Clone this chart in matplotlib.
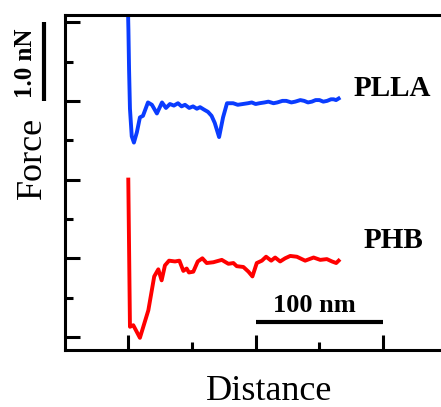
import numpy as np
import matplotlib.pyplot as plt

plt.rcParams['font.family'] = ['Liberation Serif', 'DejaVu Serif']

# force curves: distance (nm), force (nN, offset stacked)
plla_x = [0, 0.4, 0.9, 1.6, 3.0, 4.7, 7.0, 9.4, 11.8, 15.7, 18.8, 22.7, 26.7,
          29.8, 32.9, 36.0, 39.2, 42.0, 44.7, 48.0, 51.0, 54.0, 56.5, 59.5,
          62.7, 65.5, 68.0, 71.4, 74.5, 77.6, 82.4, 86, 90, 94, 97, 100, 103,
          107, 110, 114, 117, 121, 124, 128, 131, 135, 138, 141, 144, 147,
          150, 153, 156, 159, 161, 163, 165]
plla_y = [4.2, 3.9, 3.4, 2.9, 2.55, 2.47, 2.6, 2.79, 2.81, 2.98, 2.95, 2.84,
          2.98, 2.91, 2.96, 2.94, 2.97, 2.93, 2.95, 2.91, 2.93, 2.90, 2.92,
          2.89, 2.86, 2.81, 2.72, 2.54, 2.79, 2.97, 2.97, 2.95, 2.96, 2.97,
          2.98, 2.96, 2.97, 2.98, 2.99, 2.97, 2.98, 3.0, 3.0, 2.98, 2.99, 3.01,
          3.0, 2.98, 2.99, 3.01, 3.01, 2.99, 3.0, 3.02, 3.02, 3.01, 3.03]

phb_x = [0.3, 1.0, 1.6, 4.2, 9.4, 16.0, 20.6, 23.8, 26.4, 29.0, 32.2, 36.9,
         40.3, 43.4, 46.0, 47.8, 51.2, 54.7, 58.3, 61.7, 66.9, 73.5, 78.7,
         82.6, 85.2, 90.4, 94.4, 97.5, 100.9, 104.9, 108.2, 112.2, 115.3,
         119.2, 123.1, 127.1, 132.3, 138.8, 145.4, 150.6, 155.8, 159.8, 163.1,
         165.0]
phb_y = [2.0, 1.0, 0.13, 0.15, -0.01, 0.34, 0.77, 0.86, 0.72, 0.91, 0.97,
         0.96, 0.97, 0.84, 0.87, 0.82, 0.83, 0.96, 1.0, 0.94, 0.95, 0.98, 0.93,
         0.94, 0.90, 0.89, 0.83, 0.77, 0.94, 0.97, 1.02, 0.97, 1.01, 0.96, 1.0,
         1.03, 1.02, 0.97, 1.01, 0.98, 0.99, 0.96, 0.94, 0.97]

scale_x_nm = 100   # horizontal scale bar length
scale_y_nN = 1.0   # vertical scale bar length

fig = plt.figure(figsize=(4.41, 4.07), dpi=100)
ax = fig.add_axes([0.147, 0.140, 0.867, 0.823])

ax.plot(plla_x, plla_y, color='#0a3cff', lw=2.8, solid_joinstyle='round')
ax.plot(phb_x, phb_y, color='#ff0000', lw=2.8, solid_joinstyle='round')

ax.set_xlim(-49.4, 250)
ax.set_ylim(-0.165, 4.09)

ax.set_xticks([0, 100, 200])
ax.set_xticks([50, 150], minor=True)
ax.set_yticks([0, 1, 2, 3, 4])
ax.set_yticks([0.5, 1.5, 2.5, 3.5], minor=True)
ax.tick_params(which='major', direction='in', length=11, width=2.2,
               labelbottom=False, labelleft=False)
ax.tick_params(which='minor', direction='in', length=6, width=2.2)
for side in ['left', 'bottom', 'top']:
    ax.spines[side].set_linewidth(2.2)
ax.spines['right'].set_visible(False)

# scale bars
ax.plot([200 - scale_x_nm, 200], [0.19, 0.19], color='k', lw=3,
        solid_capstyle='butt')
ax.text(146, 0.40, '%d nm' % scale_x_nm, ha='center', va='center',
        fontsize=19, fontweight='bold')
ax.plot([-66, -66], [3.0, 3.0 + scale_y_nN], color='k', lw=3, clip_on=False,
        solid_capstyle='butt')
ax.text(-80, 3.48, '%.1f nN' % scale_y_nN, ha='center', va='center',
        rotation=90, fontsize=18, fontweight='bold')

ax.text(207, 3.16, 'PLLA', ha='center', va='center', fontsize=21,
        fontweight='bold')
ax.text(208, 1.22, 'PHB', ha='center', va='center', fontsize=21,
        fontweight='bold')

ax.text(-75, 2.28, 'Force', ha='center', va='center', rotation=90,
        fontsize=26)
ax.text(0.535, -0.125, 'Distance', transform=ax.transAxes, ha='center',
        va='center', fontsize=26)

fig.savefig('out.png', dpi=100)
